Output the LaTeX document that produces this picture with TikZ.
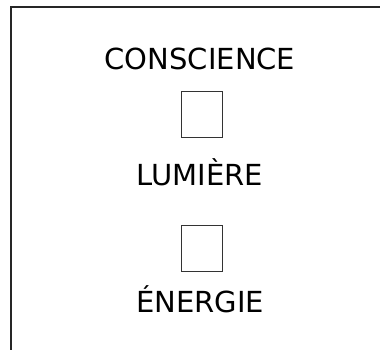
\documentclass[tikz,border=0pt]{standalone}
\usepackage{fontspec}
\setmainfont{DejaVu Sans}
\usetikzlibrary{positioning}

\begin{document}
\begin{tikzpicture}[
  x=1pt, y=1pt,
  word/.style={font=\fontsize{29}{34}\selectfont, inner sep=0pt, anchor=base},
  slot/.style={draw=black!80, line width=0.8pt, minimum width=41pt, minimum height=46pt, inner sep=0pt},
  frame/.style={draw=black!85, line width=1.6pt}]
  \useasboundingbox (0,0) rectangle (380,350);
  % frame, open at right and bottom
  \coordinate (corner) at (11,343);
  \draw[frame] (corner |- 0,0) -- (corner) -- (380,343);
  \node[word] (conscience) at (200,280) {CONSCIENCE};
  \node[slot] (slotA) at (201.5,236) {};
  \node[word] (lumiere) at (200,164) {LUMIÈRE};
  \node[slot] (slotB) at (201.5,101.5) {};
  \node[word] (energie) at (200,37) {ÉNERGIE};
\end{tikzpicture}
\end{document}
